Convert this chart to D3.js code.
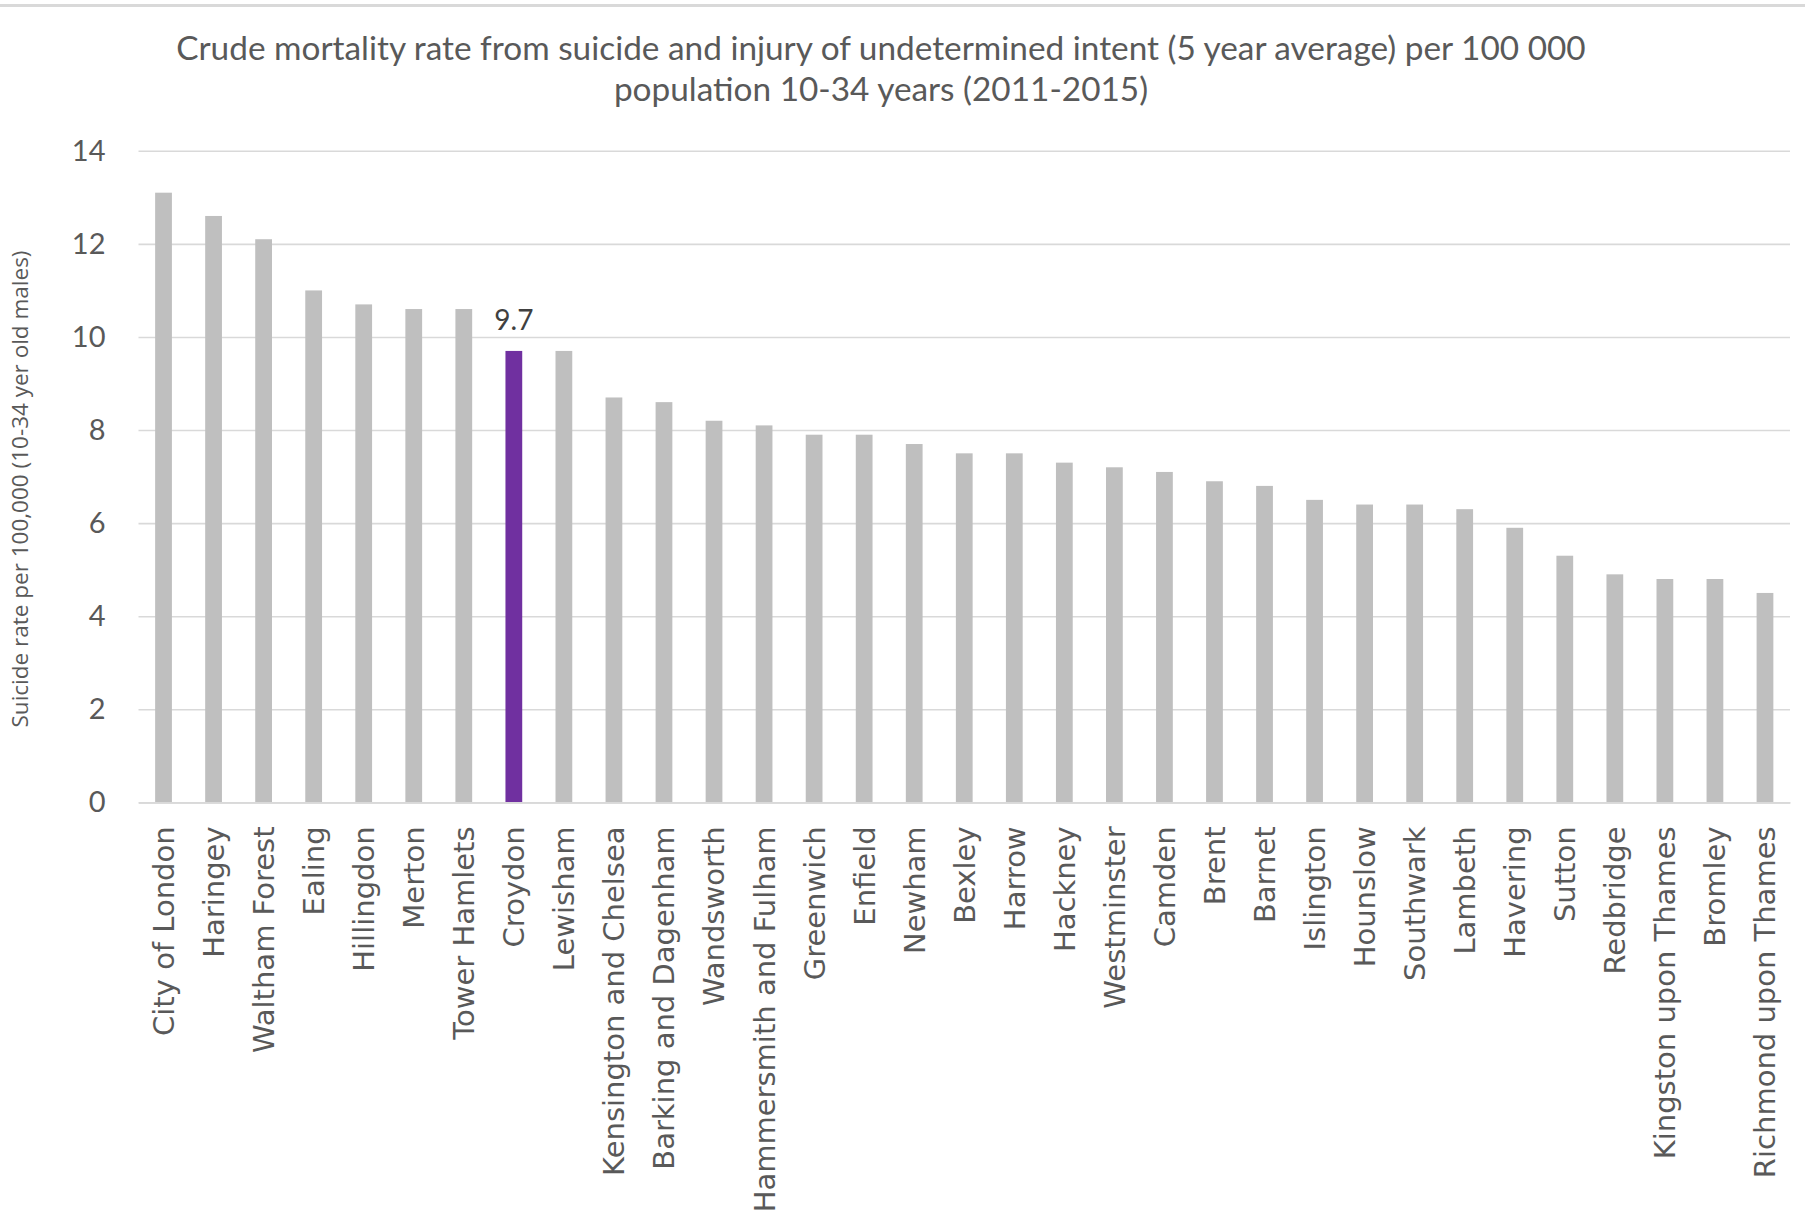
<!DOCTYPE html>
<html>
<head>
<meta charset="utf-8">
<script src="https://cdn.jsdelivr.net/npm/d3@7"></script>
<style>
  html, body { margin: 0; padding: 0; background: #ffffff; }
  svg { display: block; }
</style>
</head>
<body>
<svg id="chart" width="1805" height="1225"></svg>
<script>
// London boroughs, crude suicide rate per 100,000 males aged 10-34 (2011-2015)
const boroughs = [
  "City of London", "Haringey", "Waltham Forest", "Ealing", "Hillingdon", "Merton",
  "Tower Hamlets", "Croydon", "Lewisham", "Kensington and Chelsea", "Barking and Dagenham",
  "Wandsworth", "Hammersmith and Fulham", "Greenwich", "Enfield", "Newham", "Bexley",
  "Harrow", "Hackney", "Westminster", "Camden", "Brent", "Barnet", "Islington",
  "Hounslow", "Southwark", "Lambeth", "Havering", "Sutton", "Redbridge",
  "Kingston upon Thames", "Bromley", "Richmond upon Thames"
];
const rates = [
  13.1, 12.6, 12.1, 11.0, 10.7, 10.6,
  10.6, 9.7, 9.7, 8.7, 8.6,
  8.2, 8.1, 7.9, 7.9, 7.7, 7.5,
  7.5, 7.3, 7.2, 7.1, 6.9, 6.8, 6.5,
  6.4, 6.4, 6.3, 5.9, 5.3, 4.9,
  4.8, 4.8, 4.5
];
const yTicks = [0, 2, 4, 6, 8, 10, 12, 14];
const highlighted = ["Croydon"];
const titleLines = [
  "Crude mortality rate from suicide and injury of undetermined intent (5 year average) per 100 000",
  "population 10-34 years (2011-2015)"
];
const yTitle = "Suicide rate per 100,000 (10-34 yer old males)";

const svg = d3.select("#chart");
const plot = { left: 138.5, right: 1790, top: 150.8, bottom: 802.4 };

const x = d3.scaleBand()
  .domain(boroughs)
  .range([plot.left, plot.right])
  .paddingInner(0.665)
  .paddingOuter(0.3325);

const y = d3.scaleLinear()
  .domain([0, 14])
  .range([plot.bottom, plot.top]);

// shrink or grow a text element's font size so it spans the given width
function fitWidth(sel, target) {
  const node = sel.node();
  const fs = parseFloat(sel.attr("font-size"));
  const len = node.getComputedTextLength();
  sel.attr("font-size", (fs * target / len).toFixed(2));
}

// frame line across the top of the chart
svg.append("line")
  .attr("x1", 0).attr("x2", 1805)
  .attr("y1", 5.5).attr("y2", 5.5)
  .attr("stroke", "#d9d9d9").attr("stroke-width", 3);

// title
const title = svg.append("g")
  .attr("font-family", "Lato, 'Open Sans', sans-serif")
  .attr("fill", "#595959")
  .attr("text-anchor", "middle");
const t1 = title.append("text").attr("x", 881).attr("y", 60)
  .attr("font-size", 30).text(titleLines[0]);
fitWidth(t1, 1410);
title.append("text").attr("x", 881).attr("y", 101)
  .attr("font-size", t1.attr("font-size")).text(titleLines[1]);

// y axis with horizontal gridlines
const yAxis = svg.append("g")
  .attr("transform", `translate(${plot.left},0)`)
  .call(d3.axisLeft(y).tickValues(yTicks).tickSize(-(plot.right - plot.left)).tickPadding(33));
yAxis.select(".domain").remove();
yAxis.selectAll(".tick line")
  .attr("stroke", "#d9d9d9").attr("stroke-width", 1.6);
yAxis.selectAll(".tick text")
  .attr("font-family", "Lato, 'Open Sans', sans-serif")
  .attr("font-size", 29)
  .attr("fill", "#595959");

// y axis title
const yt = svg.append("text")
  .attr("transform", "translate(28,489) rotate(-90)")
  .attr("text-anchor", "middle")
  .attr("font-family", "'Open Sans', sans-serif")
  .attr("font-size", 19)
  .attr("fill", "#595959")
  .text(yTitle);
fitWidth(yt, 477);

// bars
svg.append("g")
  .selectAll("rect")
  .data(boroughs)
  .join("rect")
  .attr("x", d => x(d))
  .attr("width", x.bandwidth())
  .attr("y", (d, i) => y(rates[i]))
  .attr("height", (d, i) => y(0) - y(rates[i]))
  .attr("fill", d => highlighted.includes(d) ? "#7030a0" : "#bfbfbf");

// value label on the highlighted borough
svg.append("g")
  .selectAll("text")
  .data(boroughs.filter(d => highlighted.includes(d)))
  .join("text")
  .attr("x", d => x(d) + x.bandwidth() / 2)
  .attr("y", d => y(rates[boroughs.indexOf(d)]) - 21)
  .attr("text-anchor", "middle")
  .attr("font-family", "Lato, 'Open Sans', sans-serif")
  .attr("font-size", 28)
  .attr("fill", "#404040")
  .text(d => rates[boroughs.indexOf(d)].toFixed(1));

// x axis: baseline and rotated borough names
const xAxis = svg.append("g")
  .attr("transform", `translate(0,${plot.bottom})`)
  .call(d3.axisBottom(x).tickSize(0).tickPadding(0));
xAxis.select(".domain")
  .attr("stroke", "#d9d9d9").attr("stroke-width", 1.6);
xAxis.selectAll(".tick text")
  .attr("font-family", "'DejaVu Sans', sans-serif")
  .attr("font-size", 29)
  .attr("fill", "#595959")
  .attr("text-anchor", "end")
  .attr("transform", "translate(0,24) rotate(-90)")
  .attr("x", 0)
  .attr("y", 0)
  .attr("dy", "0.36em");
</script>
</body>
</html>
